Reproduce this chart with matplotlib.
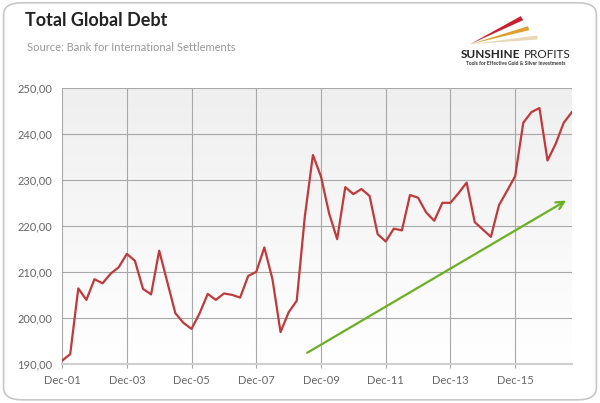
import numpy as np
import matplotlib
matplotlib.use("Agg")
import matplotlib.pyplot as plt
from matplotlib.patches import FancyBboxPatch, Polygon
from matplotlib.colors import LinearSegmentedColormap
from matplotlib.ticker import FuncFormatter

# quarterly values, Dec-01 .. Sep-17
debt = [190.8, 192.2, 206.5, 204.0, 208.5, 207.6, 209.7, 211.1, 214.0, 212.5,
        206.4, 205.2, 214.7, 207.9, 201.1, 199.0, 197.7, 201.1, 205.3, 204.0,
        205.4, 205.1, 204.5, 209.2, 210.1, 215.4, 208.5, 197.0, 201.3, 203.8,
        222.1, 235.5, 230.8, 222.8, 217.2, 228.5, 227.0, 228.1, 226.6, 218.3,
        216.7, 219.5, 219.1, 226.8, 226.2, 223.0, 221.2, 225.1, 225.1, 227.2,
        229.5, 220.9, 219.3, 217.7, 224.6, 227.7, 230.9, 242.5, 244.8, 245.7,
        234.3, 237.9, 242.5, 244.8]
tick_labels = ["Dec-01", "Dec-03", "Dec-05", "Dec-07", "Dec-09", "Dec-11", "Dec-13", "Dec-15"]
y_ticks = [190, 200, 210, 220, 230, 240, 250]
# trend arrow (quarter index, value)
arrow_start = (30, 192.2)
arrow_end = (62.6, 225.9)

plt.rcParams['font.family'] = ['Lato', 'DejaVu Sans']

fig = plt.figure(figsize=(6, 4.03), dpi=100)
fig.patch.set_facecolor('white')

# outer rounded frame
frame = FancyBboxPatch((0.006, 0.008), 0.988, 0.985, boxstyle="round,pad=0,rounding_size=0.03",
                       transform=fig.transFigure, facecolor='white', edgecolor='#c8c8c8', lw=1.2,
                       zorder=-10)
fig.patches.append(frame)

ax = fig.add_axes([0.1035, 0.096, 0.8495, 0.685])
ax.patch.set_alpha(0)
x = np.arange(len(debt))

# background gradient
grad = np.linspace(0, 1, 100).reshape(-1, 1)
cmap = LinearSegmentedColormap.from_list('bg', ['#efefef', '#ffffff'])
ax.imshow(grad, aspect='auto', cmap=cmap, extent=[0, len(debt) - 1, 190, 250], zorder=0)

ax.plot(x, debt, color='#c0393b', lw=1.6, zorder=3)
ax.annotate('', xy=arrow_end, xytext=arrow_start,
            arrowprops=dict(arrowstyle='->', color='#6ab023', lw=1.6, mutation_scale=14), zorder=4)

ax.set_xlim(0, len(debt) - 1)
ax.set_ylim(190, 250)
ax.set_yticks(y_ticks)
ax.yaxis.set_major_formatter(FuncFormatter(lambda v, p: f"{v:.2f}".replace('.', ',')))
ax.set_xticks(np.arange(0, len(debt), 8))
ax.set_xticklabels(tick_labels)
ax.grid(True, color='#a8a8a8', lw=0.8, zorder=1)
for s in ['top', 'right', 'left']:
    ax.spines[s].set_visible(False)
ax.spines['bottom'].set_color('#d0d0d0')
ax.spines['bottom'].set_linewidth(1.5)
ax.tick_params(axis='y', length=0, pad=7, labelsize=8, labelcolor='#666666')
ax.tick_params(axis='x', length=3, color='#a8a8a8', pad=5, labelsize=8, labelcolor='#666666')

# titles
fig.text(0.042, 0.95, "Total Global Debt", fontsize=13, fontweight='bold', color='#222222', va='center')
fig.text(0.045, 0.883, "Source: Bank for International Settlements", fontsize=8, color='#999999', va='center')

# logo
for pts, c in [([(0.783, 0.89), (0.868, 0.96), (0.872, 0.95)], '#c8202e'),
               ([(0.783, 0.89), (0.88, 0.935), (0.882, 0.925)], '#e0a030'),
               ([(0.783, 0.89), (0.895, 0.912), (0.896, 0.902)], '#e8d8b8')]:
    fig.patches.append(Polygon(pts, closed=True, transform=fig.transFigure, facecolor=c, edgecolor='none'))
fig.text(0.768, 0.866, "SUNSHINE", fontsize=8.5, fontweight='bold', color='#222222', va='center', ha='left')
fig.text(0.951, 0.866, "PROFITS", fontsize=8.5, color='#222222', va='center', ha='right')
fig.text(0.859, 0.842, "Tools for Effective Gold & Silver Investments", fontsize=3.6, fontweight='bold',
         color='#333333', va='center', ha='center')

fig.savefig('out.png', dpi=100)
